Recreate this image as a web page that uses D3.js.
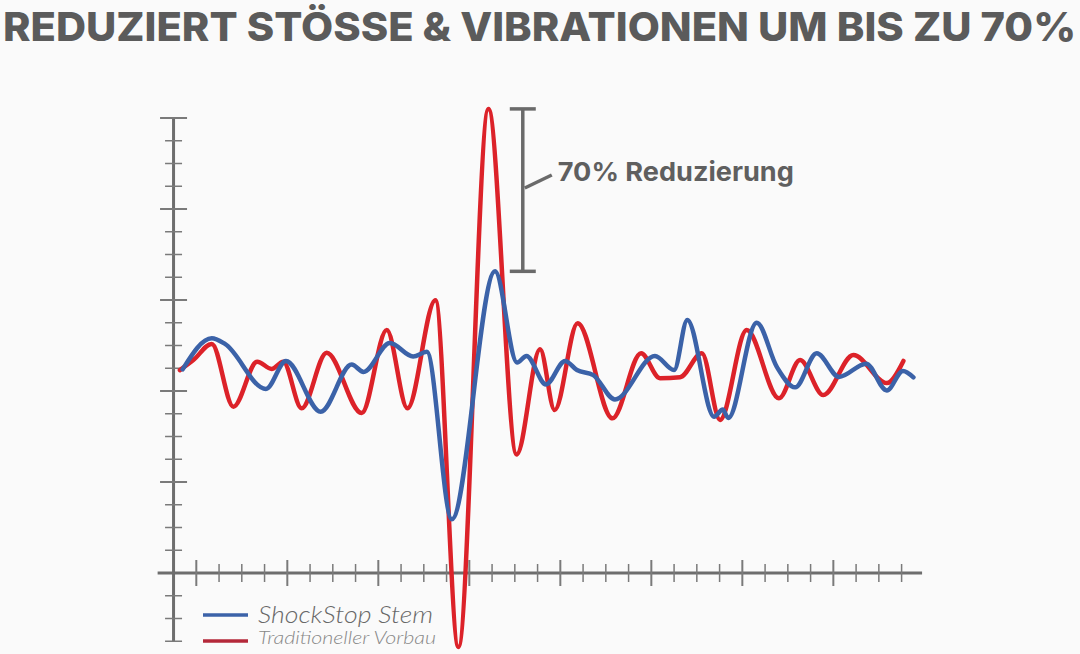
<!DOCTYPE html>
<html>
<head>
<meta charset="utf-8">
<script src="https://cdn.jsdelivr.net/npm/d3@7"></script>
<style>
  html, body { margin: 0; padding: 0; background: #fafafa; }
  svg { display: block; }
</style>
</head>
<body>
<div id="chart"></div>
<script>
// Werte in Achseneinheiten (1 Einheit = kleiner Tick)
const redX = [-0.72, -0.13, 0.68, 1.63, 2.68, 3.31, 3.82, 4.63, 5.73, 7.27, 8.37, 9.28, 10.51, 11.52, 12.84,
  14.08, 15.11, 15.75, 16.76, 18.29, 19.55, 20.38, 21.26, 22.22, 23.02, 24.19, 25.61, 26.54, 27.56, 28.88, 30.35, 31.08];
const redY = [8.92, 9.36, 10.07, 7.31, 9.29, 8.97, 9.29, 7.24, 9.68, 7.03, 10.68, 7.24, 11.99, -3.25, 20.4,
  5.21, 9.83, 7.16, 10.98, 6.80, 9.66, 8.56, 8.60, 9.66, 6.73, 10.68, 7.68, 9.36, 7.82, 9.58, 8.35, 9.32];

const blueX = [-0.60, 0.68, 1.26, 3.06, 3.94, 5.47, 6.83, 7.35, 8.51, 9.53, 10.13, 11.23, 13.13, 14.10, 14.51,
  15.37, 16.21, 16.73, 17.45, 18.40, 20.16, 21.00, 21.58, 22.76, 23.14, 23.38, 24.63, 25.52, 26.32, 27.27,
  28.25, 29.44, 30.35, 31.06, 31.52];
const blueY = [8.95, 10.32, 10.07, 8.09, 9.32, 7.09, 9.16, 8.84, 10.11, 9.52, 9.72, 2.36, 13.26, 9.25, 9.54,
  8.29, 9.32, 8.92, 8.70, 7.63, 9.54, 8.92, 11.12, 6.87, 7.19, 6.81, 11.00, 9.05, 8.16, 9.66,
  8.62, 9.20, 8.02, 8.88, 8.60];

const seriesNames = ['ShockStop Stem', 'Traditioneller Vorbau'];
const titleText = 'REDUZIERT STÖSSE & VIBRATIONEN UM BIS ZU 70%';
const noteText = '70% Reduzierung';
const noteX = 14.35;

const xMajor = d3.range(0, 29, 4);
const xMinor = d3.range(1, 32).filter(v => v % 4 !== 0);
const yMajor = d3.range(4, 21, 4);
const yMinor = d3.range(-3, 20).filter(v => v % 4 !== 0);

const W = 1080, H = 654;
const svg = d3.select('#chart').append('svg').attr('width', W).attr('height', H);

const x = d3.scaleLinear().domain([0, 31]).range([196.3, 901.6]);
const y = d3.scaleLinear().domain([0, 20]).range([573, 118]);

const axisColor = '#6d6d6d';
const red = '#dc2229', blue = '#3b62a8';

// Titel
svg.append('text')
  .attr('x', 3).attr('y', 41)
  .attr('fill', '#5b5b5b')
  .style('font-family', 'Inter, "Open Sans", sans-serif')
  .style('font-weight', 800)
  .style('font-size', '40px')
  .attr('textLength', 1073).attr('lengthAdjust', 'spacingAndGlyphs')
  .text(titleText);

// Achsen
const g = svg.append('g');
g.append('line')
  .attr('x1', x(-1)).attr('x2', x(-1))
  .attr('y1', y(20)).attr('y2', y(-3))
  .attr('stroke', axisColor).attr('stroke-width', 3);
g.append('line')
  .attr('x1', x(-1.7)).attr('x2', x(31.9))
  .attr('y1', y(0)).attr('y2', y(0))
  .attr('stroke', axisColor).attr('stroke-width', 3);

g.selectAll('.xt').data(xMajor.map(v => [v, 13]).concat(xMinor.map(v => [v, 9])))
  .join('line')
  .attr('x1', d => x(d[0])).attr('x2', d => x(d[0]))
  .attr('y1', d => y(0) - d[1]).attr('y2', d => y(0) + d[1])
  .attr('stroke', '#7a7a7a').attr('stroke-width', d => d[1] > 10 ? 2 : 1.5);

g.selectAll('.yt').data(yMajor.map(v => [v, 13.5]).concat(yMinor.map(v => [v, 8.5])))
  .join('line')
  .attr('x1', d => x(-1) - d[1]).attr('x2', d => x(-1) + d[1])
  .attr('y1', d => y(d[0])).attr('y2', d => y(d[0]))
  .attr('stroke', '#7a7a7a').attr('stroke-width', d => d[1] > 10 ? 2 : 1.5);

// Linien
const line = d3.line().x(d => x(d[0])).y(d => y(d[1])).curve(d3.curveMonotoneX);
const redData = d3.zip(redX, redY);
const blueData = d3.zip(blueX, blueY);

svg.append('path').datum(redData)
  .attr('d', line).attr('fill', 'none')
  .attr('stroke', red).attr('stroke-width', 4.5)
  .attr('stroke-linejoin', 'round').attr('stroke-linecap', 'round');
svg.append('path').datum(blueData)
  .attr('d', line).attr('fill', 'none')
  .attr('stroke', blue).attr('stroke-width', 4.5)
  .attr('stroke-linejoin', 'round').attr('stroke-linecap', 'round');

// Annotation
const topY = y(d3.max(redY)), botY = y(d3.max(blueY));
const bx = x(noteX);
const ann = svg.append('g').attr('stroke', '#6a6a6a').attr('stroke-width', 3.5);
ann.append('line').attr('x1', bx).attr('x2', bx).attr('y1', topY).attr('y2', botY);
ann.append('line').attr('x1', bx - 13).attr('x2', bx + 13).attr('y1', topY).attr('y2', topY);
ann.append('line').attr('x1', bx - 13).attr('x2', bx + 13).attr('y1', botY).attr('y2', botY);
ann.append('line').attr('x1', bx + 2).attr('x2', bx + 29).attr('y1', 188).attr('y2', 175);

svg.append('text')
  .attr('x', bx + 35).attr('y', 181)
  .attr('fill', '#5f5f5f')
  .style('font-family', 'Inter, "Open Sans", sans-serif')
  .style('font-weight', 700)
  .style('font-size', '26px')
  .attr('textLength', 236).attr('lengthAdjust', 'spacingAndGlyphs')
  .text(noteText);

// Legende
const legend = svg.append('g');
const legendRows = [
  { name: seriesNames[0], color: blue, ly: 615, size: 23, len: 175, dy: 8, fill: '#686868' },
  { name: seriesNames[1], color: '#b4283a', ly: 641, size: 18, len: 178, dy: 3, fill: '#888' }
];
legendRows.forEach(r => {
  legend.append('line')
    .attr('x1', 203).attr('x2', 248).attr('y1', r.ly).attr('y2', r.ly)
    .attr('stroke', r.color).attr('stroke-width', 3.5);
  legend.append('text')
    .attr('x', 258).attr('y', r.ly + r.dy)
    .attr('fill', r.fill)
    .style('font-family', 'Lato, "Open Sans", sans-serif')
    .style('font-style', 'italic')
    .style('font-weight', 300)
    .style('font-size', r.size + 'px')
    .attr('textLength', r.len).attr('lengthAdjust', 'spacingAndGlyphs')
    .text(r.name);
});
</script>
</body>
</html>
